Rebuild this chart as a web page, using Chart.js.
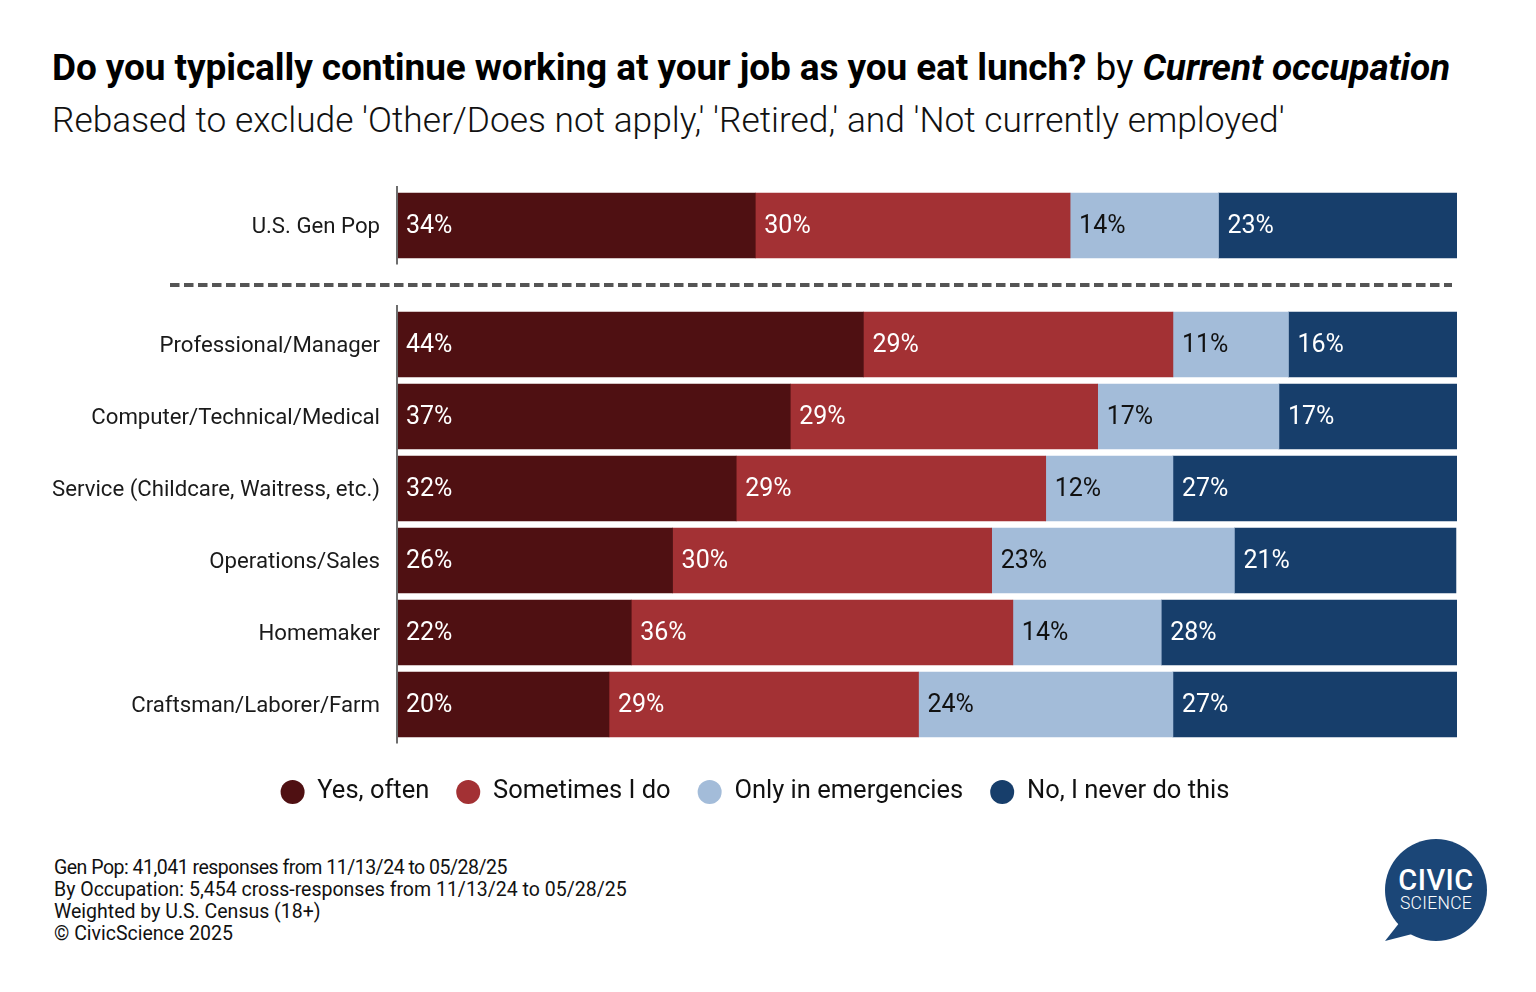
<!DOCTYPE html>
<html>
<head>
<meta charset="utf-8">
<script src="https://cdn.jsdelivr.net/npm/chart.js@4.4.1/dist/chart.umd.min.js"></script>
<style>
  html, body { margin: 0; padding: 0; background: #fff; }
  body { width: 1536px; height: 992px; position: relative; overflow: hidden; font-family: Roboto, "Noto Sans", sans-serif; }
  #title { position: absolute; left: 52px; top: 46px; font-size: 37px; font-weight: 700; color: #000; white-space: nowrap; letter-spacing: -0.1px; }
  #title .by { font-weight: 400; }
  #title .occ { font-style: italic; }
  #subtitle { position: absolute; left: 52px; top: 99px; font-size: 35.3px; font-weight: 300; color: #111; white-space: nowrap; }
  #wrap1 { position: absolute; left: 0; top: 180px; width: 1510px; height: 90px; }
  #wrap2 { position: absolute; left: 0; top: 300px; width: 1510px; height: 521px; }
  #dash { position: absolute; left: 170px; top: 282px; }
  #footer { position: absolute; left: 54px; top: 857px; font-size: 19.5px; line-height: 22px; color: #111; }
  #footer .l1 { letter-spacing: -0.5px; }
  #logo { position: absolute; left: 1380px; top: 834px; }
</style>
</head>
<body>
<div id="title">Do you typically continue working at your job as you eat lunch? <span class="by">by</span> <span class="occ">Current occupation</span></div>
<div id="subtitle">Rebased to exclude 'Other/Does not apply,' 'Retired,' and 'Not currently employed'</div>
<div id="wrap1"><canvas id="c1"></canvas></div>
<canvas id="dash" width="1290" height="6"></canvas>
<div id="wrap2"><canvas id="c2"></canvas></div>
<div id="footer">
  <span class="l1">Gen Pop: 41,041 responses from 11/13/24 to 05/28/25</span><br>
  By Occupation: 5,454 cross-responses from 11/13/24 to 05/28/25<br>
  Weighted by U.S. Census (18+)<br>
  © CivicScience 2025
</div>
<svg id="logo" width="120" height="115" viewBox="0 0 120 115">
  <path d="M20 88 L5 107 L40 98 Z" fill="#1b4677"/>
  <circle cx="56" cy="56" r="51" fill="#1b4677"/>
  <text x="56" y="56" text-anchor="middle" font-family="Roboto, sans-serif" font-weight="500" font-size="29" letter-spacing="0.5" fill="#fff">CIVIC</text>
  <text x="56" y="75" text-anchor="middle" font-family="Roboto, sans-serif" font-weight="300" font-size="17.5" letter-spacing="0.3" fill="#fff">SCIENCE</text>
</svg>
<script>
// ---- Data ----
const seriesNames = ['Yes, often', 'Sometimes I do', 'Only in emergencies', 'No, I never do this'];
const seriesColors = ['#4f1012', '#a33134', '#a3bcd9', '#173e6b'];
const labelColors = ['#ffffff', '#ffffff', '#111111', '#ffffff'];

const genPopLabel = ['U.S. Gen Pop'];
const genPopYesOften = [33.8];
const genPopSometimes = [29.7];
const genPopEmergencies = [14.0];
const genPopNever = [22.7];

const occupations = [
  'Professional/Manager',
  'Computer/Technical/Medical',
  'Service (Childcare, Waitress, etc.)',
  'Operations/Sales',
  'Homemaker',
  'Craftsman/Laborer/Farm'
];
const occYesOften    = [44.0, 37.1, 32.0, 26.0, 22.1, 20.0];
const occSometimes   = [29.2, 29.0, 29.2, 30.1, 36.0, 29.2];
const occEmergencies = [10.9, 17.1, 12.0, 22.9, 14.0, 24.0];
const occNever       = [15.9, 16.9, 26.9, 20.9, 27.9, 26.9];

// ---- Drawing helpers ----
const FONT = 'Roboto';

const barLabels = {
  id: 'barLabels',
  afterDatasetsDraw(chart) {
    const ctx = chart.ctx;
    ctx.save();
    ctx.font = '400 25px ' + FONT;
    ctx.textBaseline = 'middle';
    ctx.textAlign = 'left';
    chart.data.datasets.forEach((ds, di) => {
      const meta = chart.getDatasetMeta(di);
      meta.data.forEach((bar, i) => {
        const v = ds.data[i];
        const left = Math.min(bar.x, bar.base);
        ctx.fillStyle = labelColors[di];
        ctx.fillText(Math.round(v) + '%', left + 9, bar.y + 1.5);
      });
    });
    ctx.restore();
  }
};

const axisLine = {
  id: 'axisLine',
  afterDatasetsDraw(chart) {
    const ctx = chart.ctx, a = chart.chartArea;
    ctx.save();
    ctx.strokeStyle = '#6e6e6e';
    ctx.lineWidth = 2;
    ctx.beginPath();
    ctx.moveTo(a.left, a.top - 3.5);
    ctx.lineTo(a.left, a.bottom + 3);
    ctx.stroke();
    ctx.restore();
  }
};

function makeDatasets(arrs) {
  return arrs.map((d, i) => ({
    label: seriesNames[i],
    data: d,
    backgroundColor: seriesColors[i],
    borderWidth: 0,
    barThickness: 65
  }));
}

function baseOptions(showLegend, pad) {
  return {
    indexAxis: 'y',
    responsive: true,
    maintainAspectRatio: false,
    animation: false,
    layout: { padding: pad },
    scales: {
      x: showLegend ? {
        stacked: true, min: 0, max: 100, display: true,
        ticks: { display: false },
        grid: { display: false, drawTicks: false },
        border: { display: false },
        afterFit(scale) { scale.height = 11.75; scale.paddingLeft = 0; scale.paddingRight = 0; }
      } : { stacked: true, min: 0, max: 100, display: false },
      y: {
        stacked: true,
        border: { display: false },
        grid: { display: false, drawTicks: false },
        ticks: { padding: 17, labelOffset: 2, color: '#1a1a1a', font: { family: FONT, size: 22.2 } },
        afterFit(scale) { scale.width = 344; scale.paddingTop = 0; scale.paddingBottom = 0; }
      }
    },
    plugins: {
      tooltip: { enabled: false },
      legend: showLegend ? {
        display: true,
        position: 'bottom',
        align: 'center',
        labels: {
          usePointStyle: true,
          pointStyle: 'circle',
          boxHeight: 17,
          pointStyleWidth: 24,
          padding: 27,
          color: '#111',
          font: { family: FONT, size: 25.5 }
        }
      } : { display: false }
    }
  };
}

new Chart(document.getElementById('c1'), {
  type: 'bar',
  data: { labels: genPopLabel, datasets: makeDatasets([genPopYesOften, genPopSometimes, genPopEmergencies, genPopNever]) },
  options: baseOptions(false, { top: 9.5, bottom: 8.5, left: 53, right: 53 }),
  plugins: [barLabels, axisLine]
});

new Chart(document.getElementById('c2'), {
  type: 'bar',
  data: { labels: occupations, datasets: makeDatasets([occYesOften, occSometimes, occEmergencies, occNever]) },
  options: baseOptions(true, { top: 8.5, bottom: 6.25, left: 53, right: 53 }),
  plugins: [barLabels, axisLine]
});

// dashed separator
(function () {
  const c = document.getElementById('dash');
  const ctx = c.getContext('2d');
  ctx.strokeStyle = '#555555';
  ctx.lineWidth = 4;
  ctx.setLineDash([9.5, 4.5]);
  ctx.beginPath();
  ctx.moveTo(0, 3);
  ctx.lineTo(1282, 3);
  ctx.stroke();
})();
</script>
</body>
</html>
